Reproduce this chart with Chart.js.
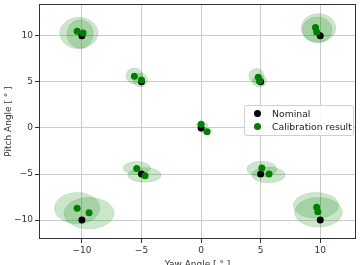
<!DOCTYPE html>
<html>
<head>
<meta charset="utf-8">
<script src="https://cdn.jsdelivr.net/npm/chart.js@4.4.0/dist/chart.umd.min.js"></script>
<style>
  body { margin: 0; background: #fff; }
  #wrap { position: relative; width: 360px; height: 265px; }
  #legend {
    position: absolute; left: 244px; top: 105px; width: 108px; height: 29px;
    border: 1px solid #d0d0d0; border-radius: 3px; background: rgba(255,255,255,0.85);
    font-family: "DejaVu Sans", sans-serif; font-size: 9.3px; color: #222;
  }
  .item { position: absolute; left: 9px; height: 12px; line-height: 12px; white-space: nowrap; }
  .dot { display: inline-block; width: 7px; height: 7px; border-radius: 50%; vertical-align: middle; margin-right: 11px; position: relative; top: -1px; }
</style>
</head>
<body>
<div id="wrap">
  <canvas id="grafico"></canvas>
  <div id="legend">
    <div class="item" style="top:2px"><span class="dot" style="background:#000"></span>Nominal</div>
    <div class="item" style="top:15px"><span class="dot" style="background:#008000"></span>Calibration result</div>
  </div>
</div>
<script>
// valores
const tickValues = [-10, -5, 0, 5, 10];

const nominalX = [-10, -5, 10, 5, 0, -5, 5, -10, 10];
const nominalY = [10, 5, 10, 5, 0, -5, -5, -10, -10];

const calibX = [-10.4, -9.9, -5.6, -5.0, 9.6, 9.7, 4.8, 4.9, 0.0, 0.5, -5.4, -4.7, 5.1, 5.7, -10.4, -9.4, 9.7, 9.8];
const calibY = [10.5, 10.3, 5.6, 5.2, 10.9, 10.4, 5.5, 5.1, 0.4, -0.4, -4.4, -5.2, -4.35, -5.0, -8.7, -9.2, -8.6, -9.1];

// elipses de incerteza (centro e semi-eixos em graus)
const ellX  = [-10.25, -10.15, -5.6, -5.1, 9.85, 9.75, 4.65, 4.9, 0.1, 0.4, -5.4, -4.75, 5.1, 5.65, -10.4, -9.4, 9.65, 9.85];
const ellY  = [10.3, 10.2, 5.65, 5.2, 10.85, 10.65, 5.65, 5.1, 0.3, -0.3, -4.35, -5.1, -4.45, -5.1, -8.7, -9.25, -8.4, -9.15];
const ellRx = [1.6, 1.1, 0.7, 0.6, 1.45, 1.25, 0.65, 0.6, 0.5, 0.5, 1.15, 1.4, 1.25, 1.4, 1.9, 2.1, 1.9, 2.0];
const ellRy = [1.7, 1.55, 0.85, 0.75, 1.55, 1.4, 0.8, 0.65, 0.3, 0.3, 0.7, 0.8, 0.85, 0.85, 1.7, 1.7, 1.4, 1.6];

const toPts = (xs, ys) => xs.map((x, i) => ({ x: x, y: ys[i] }));
const minus = v => String(v).replace('-', '\u2212');

// Elipses e moldura
const ellipsePlugin = {
    id: 'ellipses',
    beforeDatasetsDraw(chart) {
        const { ctx, chartArea, scales } = chart;
        ctx.save();
        ctx.beginPath();
        ctx.rect(chartArea.left, chartArea.top, chartArea.width, chartArea.height);
        ctx.clip();
        ellX.forEach((cx, i) => {
            const px = scales.x.getPixelForValue(cx);
            const py = scales.y.getPixelForValue(ellY[i]);
            const rx = Math.abs(scales.x.getPixelForValue(cx + ellRx[i]) - px);
            const ry = Math.abs(scales.y.getPixelForValue(ellY[i] + ellRy[i]) - py);
            ctx.beginPath();
            ctx.ellipse(px, py, rx, ry, 0, 0, Math.PI * 2);
            ctx.fillStyle = 'rgba(0,128,0,0.2)';
            ctx.fill();
            ctx.strokeStyle = 'rgba(0,128,0,0.12)';
            ctx.lineWidth = 1;
            ctx.stroke();
        });
        ctx.restore();
    },
    afterDraw(chart) {
        const { ctx, chartArea } = chart;
        ctx.save();
        ctx.strokeStyle = '#333';
        ctx.lineWidth = 1;
        ctx.strokeRect(chartArea.left + 0.5, chartArea.top + 0.5, chartArea.width - 1, chartArea.height - 1);
        ctx.restore();
    }
};

const noPad = s => { s.paddingTop = 0; s.paddingBottom = 0; s.paddingLeft = 0; s.paddingRight = 0; };

const ctx = document.getElementById('grafico');
new Chart(ctx, {
    type: 'scatter',
    data: {
        datasets: [{
            label: 'Calibration result',
            data: toPts(calibX, calibY),
            backgroundColor: '#008000',
            borderWidth: 0,
            pointRadius: 3.5,
            order: 1
        }, {
            label: 'Nominal',
            data: toPts(nominalX, nominalY),
            backgroundColor: '#000',
            borderWidth: 0,
            pointRadius: 3.5,
            order: 2
        }]
    },
    options: {
        responsive: true,
        maintainAspectRatio: false,
        animation: false,
        layout: { padding: { top: 0, right: 3, left: 0, bottom: 0 } },
        plugins: { legend: { display: false }, tooltip: { enabled: false } },
        scales: {
            x: {
                min: -13.6, max: 13.0,
                afterBuildTicks: s => { s.ticks = tickValues.map(v => ({ value: v })); },
                afterFit: s => { s.height = 26; noPad(s); },
                grid: { color: '#cccccc', tickColor: '#333', tickLength: 4 },
                border: { display: false },
                ticks: {
                    padding: 2, maxRotation: 0, color: '#333',
                    font: { family: 'DejaVu Sans', size: 9 },
                    callback: v => minus(v)
                },
                title: {
                    display: true, text: 'Yaw Angle [ ° ]', color: '#333',
                    font: { family: 'DejaVu Sans', size: 9 },
                    padding: { top: 0, bottom: -5 }
                }
            },
            y: {
                min: -12.05, max: 13.45,
                afterBuildTicks: s => { s.ticks = tickValues.map(v => ({ value: v })); },
                afterFit: s => { s.width = 39; noPad(s); },
                grid: { color: '#cccccc', tickColor: '#333', tickLength: 4 },
                border: { display: false },
                ticks: {
                    padding: 2, color: '#333',
                    font: { family: 'DejaVu Sans', size: 9 },
                    callback: v => minus(v)
                },
                title: {
                    display: true, text: 'Pitch Angle [ ° ]', color: '#333',
                    font: { family: 'DejaVu Sans', size: 9 },
                    padding: { top: 3, bottom: 0 }
                }
            }
        }
    },
    plugins: [ellipsePlugin]
});
</script>
</body>
</html>
